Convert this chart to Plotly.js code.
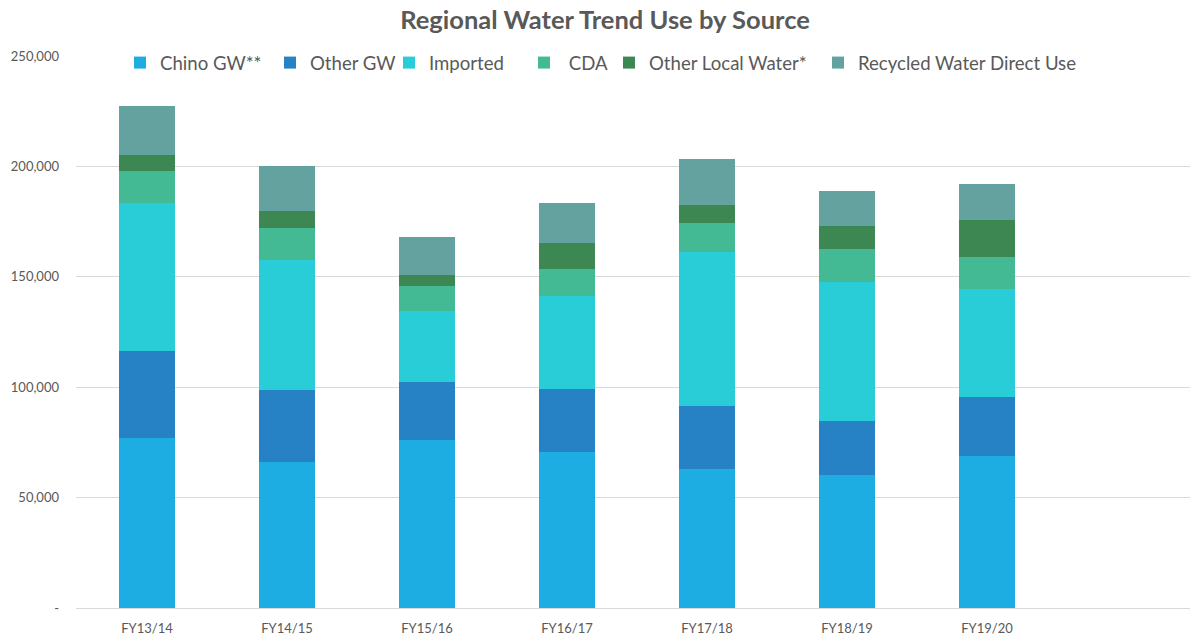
<!DOCTYPE html>
<html>
<head>
<meta charset="utf-8">
<script src="https://cdn.plot.ly/plotly-3.0.1.min.js"></script>
<style>html,body{margin:0;padding:0;background:#fff;}#chart{width:1193px;height:636px;}</style>
</head>
<body>
<div id="chart"></div>
<script>
const categories = ['FY13/14','FY14/15','FY15/16','FY16/17','FY17/18','FY18/19','FY19/20'];
const chinoGW    = [77000, 66300, 76250, 70830, 63150, 60300, 68750];
const otherGW    = [39200, 32260, 26200, 28470, 28450, 24400, 26750];
const imported   = [67300, 58840, 31950, 42000, 69700, 62800, 49000];
const cda        = [14570, 14600, 11600, 12350, 13000, 15300, 14600];
const otherLocal = [6930, 7700, 4600, 11450, 8400, 10000, 16700];
const recycled   = [22300, 20500, 17500, 18400, 20650, 16100, 16100];
const seriesNames = ['Chino GW**', 'Other GW', 'Imported', ' CDA', 'Other Local Water*', 'Recycled Water Direct Use'];
const yTickVals = [0, 50000, 100000, 150000, 200000, 250000];
const yTickText = ['-', '50,000', '100,000', '150,000', '200,000', '250,000'];

const seriesValues = [chinoGW, otherGW, imported, cda, otherLocal, recycled];
const colors = ['#1EADE3', '#2681C5', '#28CDD7', '#43B994', '#3D8753', '#63A29E'];
const legendX = [120, 270, 389, 524, 609, 818];
const legendIds = ['legend', 'legend2', 'legend3', 'legend4', 'legend5', 'legend6'];
const txt = '#595959';
const fontFam = 'Lato, "Open Sans", sans-serif';

const traces = seriesValues.map((vals, i) => ({
  type: 'bar',
  name: seriesNames[i],
  x: categories,
  y: vals,
  marker: {color: colors[i]},
  legend: legendIds[i],
  hoverinfo: 'x+y+name'
}));

const layout = {
  width: 1193, height: 636,
  margin: {l: 76, r: 3, t: 56, b: 28, autoexpand: false},
  paper_bgcolor: '#fff', plot_bgcolor: '#fff',
  barmode: 'stack',
  bargap: 0.6,
  font: {family: fontFam, color: txt},
  title: {
    text: '<b>Regional Water Trend Use by Source</b>',
    font: {family: fontFam, size: 25.5, color: txt},
    xref: 'container', x: 605/1193, xanchor: 'center',
    yref: 'container', y: 1 - 20/636, yanchor: 'middle'
  },
  xaxis: {
    type: 'category', categoryorder: 'array', categoryarray: categories,
    range: [-0.507, 7.45],
    showgrid: false, showline: true, linecolor: '#D9D9D9', linewidth: 1,
    ticks: '', ticklabelstandoff: 8,
    tickfont: {family: fontFam, size: 13, color: txt}
  },
  yaxis: {
    range: [0, 250000],
    tickvals: yTickVals, ticktext: yTickText,
    showgrid: true, gridcolor: '#D9D9D9', gridwidth: 1,
    zeroline: false, showline: false, ticks: '',
    ticklabelstandoff: 16,
    tickfont: {family: fontFam, size: 13, color: txt}
  },
  showlegend: true
};
legendIds.forEach((id, i) => {
  layout[id] = {
    orientation: 'h',
    xref: 'container', x: legendX[i] / 1193, xanchor: 'left',
    yref: 'paper', y: 1 - 7/552, yanchor: 'middle',
    bgcolor: 'rgba(0,0,0,0)',
    font: {family: fontFam, size: 18.6, color: txt}
  };
});

Plotly.newPlot('chart', traces, layout, {displayModeBar: false, staticPlot: true});
</script>
</body>
</html>
